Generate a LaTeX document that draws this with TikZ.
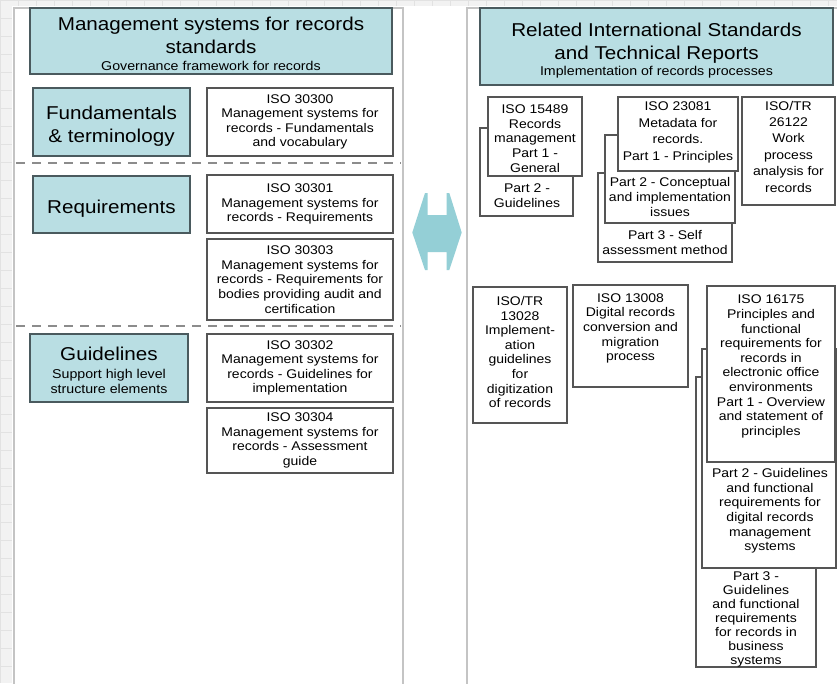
\documentclass[tikz,border=0pt]{standalone}
\usepackage{fontspec}
\setmainfont{Liberation Sans}[FakeStretch=1.11]
\definecolor{teal1}{HTML}{B9DEE3}
\definecolor{arrowc}{HTML}{94CFD6}
\definecolor{boxline}{HTML}{555555}
\definecolor{titleline}{HTML}{4A5A5E}
\definecolor{panelline}{HTML}{C4C4C4}
\definecolor{bgc}{HTML}{F2F2F2}
\definecolor{gridc}{HTML}{E2E2E2}
\newcommand\bigf{\fontsize{18.6}{23}\selectfont}
\newcommand\smallf{\fontsize{12.8}{15}\selectfont}
\newcommand\boxf{\fontsize{12.6}{14.6}\selectfont}
\tikzset{
  box/.style={draw=boxline, line width=1.1pt, fill=white, inner sep=0pt, align=center, font=\boxf},
  tbox/.style={box, fill=teal1, draw=titleline},
  txt/.style={inner sep=0pt, align=center, font=\boxf},
  bigtxt/.style={inner sep=0pt, align=center, font=\bigf},
  smalltxt/.style={inner sep=0pt, align=center, font=\smallf},
  panel/.style={draw=panelline, line width=1.6pt, fill=white},
  sep/.style={draw=gray!90, line width=1.4pt, dash pattern=on 9pt off 7pt}
}
\begin{document}
\begin{tikzpicture}[x=1pt,y=-1pt]
\useasboundingbox (0,0) rectangle (837,683);
% background grid
\fill[bgc] (0,0) rectangle (837,683);
\foreach \gx in {0,18,...,836} \draw[gridc, line width=0.8pt] (\gx,0) -- (\gx,683);
\foreach \gy in {0,18,...,682} \draw[gridc, line width=0.8pt] (0,\gy) -- (837,\gy);
\fill[white] (12,6) rectangle (845,690);
% panels
\draw[panel] (14,8) rectangle (403,695);
\draw[panel] (467,8) rectangle (850,695);
% separators
\draw[sep] (16,163) -- (401,163);
\draw[sep] (16,326) -- (401,326);

% left column
\node[tbox, minimum width=362pt, minimum height=66pt] (ltitle) at (211,41) {};
\node[bigtxt] (ltitleA) at (211,35) {Management systems for records\\ standards};
\node[smalltxt] (ltitleB) at (211,65.5) {Governance framework for records};
\node[tbox, minimum width=157pt, minimum height=68pt] (fund) at (111.5,122) {};
\node[bigtxt] (fundT) at (111.5,126) {Fundamentals\\ \& terminology};
\node[box, minimum width=186pt, minimum height=68pt] (i30300) at (300,122)
  {ISO 30300\\ Management systems for\\ records - Fundamentals\\ and vocabulary};
\node[tbox, minimum width=157pt, minimum height=57pt] (req) at (111.5,204.5) {};
\node[bigtxt] (reqT) at (111.5,209) {Requirements};
\node[box, minimum width=186pt, minimum height=58pt] (i30301) at (300,204)
  {ISO 30301\\ Management systems for\\ records - Requirements};
\node[box, minimum width=186pt, minimum height=81pt] (i30303) at (300,279.5)
  {ISO 30303\\ Management systems for\\ records - Requirements for\\ bodies providing audit and\\ certification};
\node[tbox, minimum width=158pt, minimum height=68pt] (guide) at (109,368) {};
\node[bigtxt] (guideA) at (109,354) {Guidelines};
\node[smalltxt] (guideB) at (109,381) {Support high level\\ structure elements};
\node[box, minimum width=186pt, minimum height=68pt] (i30302) at (300,368)
  {ISO 30302\\ Management systems for\\ records - Guidelines for\\ implementation};
\node[box, minimum width=186pt, minimum height=65pt] (i30304) at (300,440.5)
  {ISO 30304\\ Management systems for\\ records - Assessment\\ guide};

% double arrow
\fill[arrowc] (425,193) -- (427.7,193) -- (427.7,215) -- (446.7,215) -- (446.7,193) -- (449.3,193)
  -- (461.7,232.5) -- (449.3,270) -- (446.7,270) -- (446.7,252) -- (427.7,252) -- (427.7,270)
  -- (425,270) -- (412.3,232.5) -- cycle;

% right column
\node[tbox, minimum width=353pt, minimum height=77pt] (rtitle) at (656.5,46.5) {};
\node[bigtxt] (rtitleA) at (656.5,43.5) {Related International Standards\\ and Technical Reports};
\node[smalltxt] (rtitleB) at (656.5,72) {Implementation of records processes};

% ISO 15489 stack
\node[box, minimum width=93pt, minimum height=88pt] (b15489b) at (526.5,172) {};
\node[txt] (t15489b) at (527,195.5) {Part 2 -\\ Guidelines};
\node[box, minimum width=94pt, minimum height=79pt] (b15489) at (535,136.5) {};
\node[txt] (t15489) at (535,138.5) {ISO 15489\\ Records\\ management\\ Part 1 -\\ General};

% ISO 23081 stack
\node[box, minimum width=134pt, minimum height=89pt] (b23081c) at (665,217.5) {};
\node[txt] (t23081c) at (665,242.5) {Part 3 - Self\\ assessment method};
\node[box, minimum width=130pt, minimum height=88pt] (b23081b) at (670,179) {};
\node[txt] (t23081b) at (670,197) {Part 2 - Conceptual\\ and implementation\\ issues};
\node[box, minimum width=120pt, minimum height=74pt] (b23081) at (678,134) {};
\node[txt, font={\fontsize{12.6}{16.6}\selectfont}] (t23081) at (678,132.5) {ISO 23081\\ Metadata for\\ records.\\ Part 1 - Principles};

% ISO/TR 26122
\node[box, minimum width=93pt, minimum height=108pt] (b26122) at (788.5,151) {};
\node[txt, font={\fontsize{12.6}{16.4}\selectfont}] (t26122) at (788.5,146.5) {ISO/TR\\ 26122\\ Work\\ process\\ analysis for\\ records};

% ISO/TR 13028
\node[box, minimum width=94pt, minimum height=136pt] (b13028) at (520,355) {};
\node[txt] (t13028) at (520,352) {ISO/TR\\ 13028\\ Implement-\\ ation\\ guidelines\\ for\\ digitization\\ of records};

% ISO 13008
\node[box, minimum width=115pt, minimum height=102pt] (b13008) at (630.5,336) {};
\node[txt] (t13008) at (630.5,328.5) {ISO 13008\\ Digital records\\ conversion and\\ migration\\ process};

% ISO 16175 stack
\node[box, minimum width=120pt, minimum height=290pt] (b16175c) at (756,522) {};
\node[txt, font={\fontsize{12.6}{14}\selectfont}] (t16175c) at (756,619) {Part 3 -\\ Guidelines\\ and functional\\ requirements\\ for records in\\ business\\ systems};
\node[box, minimum width=134pt, minimum height=219pt] (b16175b) at (769,458.5) {};
\node[txt] (t16175b) at (770,511) {Part 2 - Guidelines\\ and functional\\ requirements for\\ digital records\\ management\\ systems};
\node[box, minimum width=128pt, minimum height=176pt] (b16175) at (771,374) {};
\node[txt] (t16175) at (771,366.5) {ISO 16175\\ Principles and\\ functional\\ requirements for\\ records in\\ electronic office\\ environments\\ Part 1 - Overview\\ and statement of\\ principles};
\end{tikzpicture}
\end{document}
